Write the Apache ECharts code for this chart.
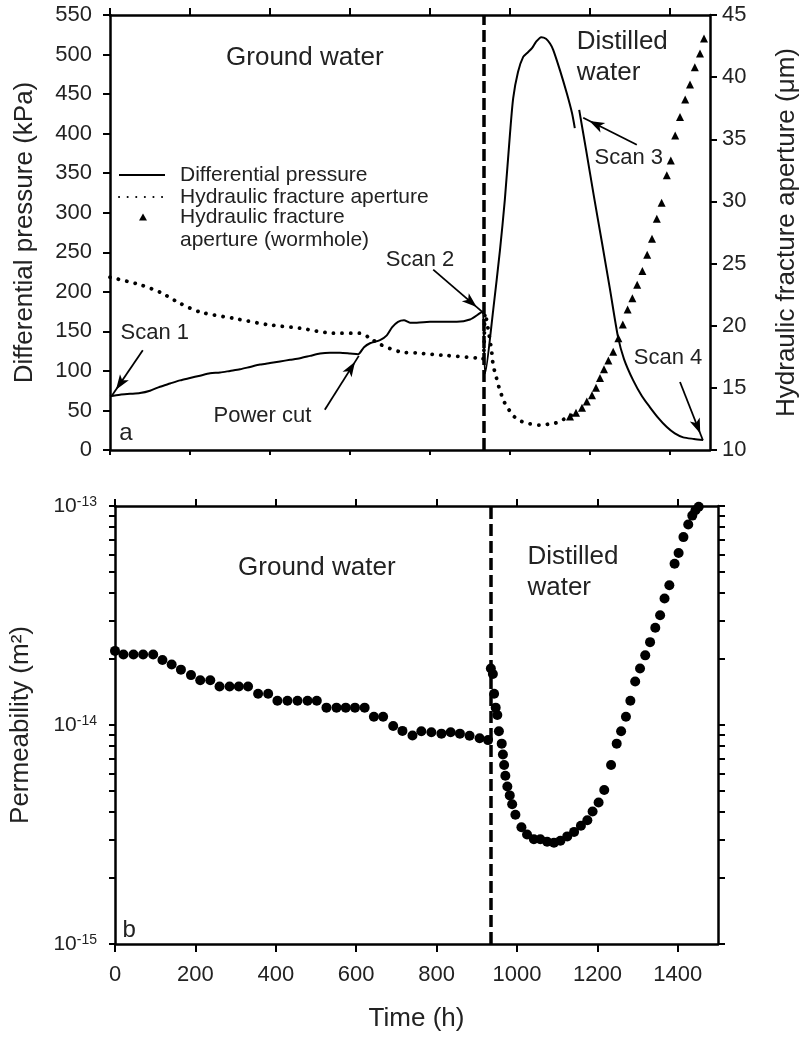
<!DOCTYPE html>
<html>
<head>
<meta charset="utf-8">
<title>Differential pressure, fracture aperture and permeability vs time</title>
<script src="https://cdn.jsdelivr.net/npm/echarts@6/dist/echarts.min.js"></script>
<style>
  html, body { margin: 0; padding: 0; background: #fff; }
  #main { width: 808px; height: 1038px; }
</style>
</head>
<body>
<div id="main"></div>
<script>
// ---- data ----
// (a) differential pressure, kPa ('-' = gap at scan 3)
var pressureTime = [0, 25, 50, 75, 100, 125, 150, 175, 200, 225, 250, 275, 300, 325, 350, 375, 400, 425, 450, 475,
  500, 525, 550, 575, 600, 620, 635, 650, 675, 692, 705, 720, 735, 750, 767, 800, 835, 867, 900, 925,
  932, 938, 958, 975, 987, 1000, 1008, 1020, 1033, 1045, 1055, 1065, 1078, 1090, 1100, 1108, 1125, 1142, 1155, 1162,
  1167, 1173, 1190, 1210, 1230, 1250, 1270, 1285, 1308, 1330, 1350, 1370, 1392, 1412, 1433, 1460, 1483];
var pressureValue = [68, 70, 71, 72, 75, 80, 84, 88, 91, 94, 97, 98, 100, 102, 105, 108, 110, 112, 114, 116,
  119, 122, 123, 123, 122, 121, 130, 135, 139, 145, 155, 162, 164, 161, 161, 162, 162, 162, 165, 173,
  175, 97, 177, 253, 316, 400, 445, 478, 497, 503, 508, 516, 522, 520, 514, 506, 480, 451, 426, 407,
  '-', 430, 380, 320, 262, 203, 143, 115, 88, 68, 54, 41, 29, 21, 16, 14, 12.6];

// (a) hydraulic fracture aperture, µm
var apertureTime = [0, 75, 125, 175, 225, 308, 392, 475, 558, 625, 650, 675, 725, 767, 842, 917, 932,
  938, 945, 950, 954, 958, 965, 971, 977, 985, 996, 1010, 1029, 1050, 1075, 1100, 1117, 1142, 1160];
var apertureValue = [23.9, 23.3, 22.7, 21.8, 21.1, 20.6, 20.1, 19.8, 19.4, 19.4, 19.0, 18.5, 17.9, 17.8, 17.6, 17.4, 17.3,
  21.0, 19.8, 18.8, 18.0, 16.8, 15.95, 15.2, 14.6, 13.9, 13.3, 12.7, 12.3, 12.1, 12.0, 12.1, 12.2, 12.6, 12.9];

// (a) hydraulic fracture aperture (wormhole), µm
var wormholeTime = [1150, 1165, 1180, 1192, 1205, 1215, 1225, 1235, 1246, 1258, 1271, 1282, 1294, 1306, 1318,
  1331, 1343, 1355, 1367, 1379, 1392, 1402, 1413, 1425, 1438, 1450, 1462, 1475, 1485];
var wormholeValue = [12.7, 13.0, 13.4, 13.9, 14.4, 15.0, 15.8, 16.5, 17.2, 17.9, 19.0, 20.1, 21.3, 22.2, 23.3,
  24.4, 25.7, 27.0, 28.6, 29.9, 32.1, 33.3, 35.3, 36.8, 38.2, 39.4, 40.8, 41.9, 43.1];

// (b) permeability, m2
var permTime = [0, 21, 46, 70, 95, 118, 141, 164, 189, 212, 237, 260, 285, 308, 331, 356, 381, 404, 429, 454,
  479, 502, 526, 551, 574, 597, 621, 644, 667, 692, 715, 740, 762, 787, 812, 835, 858, 882, 907, 928,
  935, 940, 943, 947, 951, 955, 962, 965, 968, 971, 976, 982, 988, 996, 1011, 1025, 1042, 1058, 1075, 1092,
  1108, 1125, 1142, 1159, 1175, 1188, 1203, 1217, 1234, 1248, 1259, 1271, 1282, 1294, 1306, 1319, 1331, 1344, 1356, 1367,
  1379, 1392, 1402, 1414, 1426, 1436, 1444, 1452];
var permValue = [2.18e-14, 2.10e-14, 2.10e-14, 2.10e-14, 2.10e-14, 1.98e-14, 1.89e-14, 1.79e-14, 1.69e-14, 1.60e-14,
  1.60e-14, 1.50e-14, 1.50e-14, 1.50e-14, 1.50e-14, 1.39e-14, 1.39e-14, 1.29e-14, 1.29e-14, 1.29e-14,
  1.29e-14, 1.29e-14, 1.20e-14, 1.20e-14, 1.20e-14, 1.20e-14, 1.20e-14, 1.09e-14, 1.09e-14, 9.9e-15,
  9.4e-15, 8.95e-15, 9.37e-15, 9.26e-15, 9.13e-15, 9.26e-15, 9.13e-15, 8.93e-15, 8.70e-15, 8.53e-15,
  1.81e-14, 1.71e-14, 1.39e-14, 1.20e-14, 1.11e-14, 9.37e-15, 8.22e-15, 7.34e-15, 6.57e-15, 5.87e-15,
  5.24e-15, 4.77e-15, 4.35e-15, 3.89e-15, 3.41e-15, 3.16e-15, 3.01e-15, 3.01e-15, 2.93e-15, 2.90e-15,
  2.96e-15, 3.10e-15, 3.25e-15, 3.47e-15, 3.67e-15, 4.03e-15, 4.43e-15, 5.05e-15, 6.57e-15, 8.22e-15,
  9.37e-15, 1.09e-14, 1.29e-14, 1.58e-14, 1.81e-14, 2.08e-14, 2.39e-14, 2.78e-14, 3.17e-14, 3.78e-14,
  4.35e-14, 5.45e-14, 6.10e-14, 7.21e-14, 8.23e-14, 9.04e-14, 9.56e-14, 9.93e-14];

// switch from ground water to distilled water
var switchTime = 934;

// ticks
var timeTicks = [0, 200, 400, 600, 800, 1000, 1200, 1400];
var permLabelTicks = [1e-15, 1e-14, 1e-13];
var permMinorTicks = [1e-15, 2e-15, 3e-15, 4e-15, 5e-15, 6e-15, 7e-15, 8e-15, 9e-15,
  1e-14, 2e-14, 3e-14, 4e-14, 5e-14, 6e-14, 7e-14, 8e-14, 9e-14, 1e-13];

// ---- helpers ----
var textColor = '#222';
var fontFamily = '"Liberation Sans", Arial, Helvetica, sans-serif';

// permeability is drawn on an axis in powers of ten
function exp10(v) {
  return Math.round(Math.log10(v) * 1e6) / 1e6;
}

function pairs(xs, ys, fn) {
  return xs.map(function (x, i) {
    var y = ys[i];
    if (y === '-') return [x, '-'];
    return [x, fn ? fn(y) : y];
  });
}

function note(name, t, v, size, align) {
  return {
    name: name,
    coord: [t, v],
    symbol: 'circle',
    symbolSize: 0,
    itemStyle: { color: 'rgba(0,0,0,0)' },
    label: {
      show: true, position: 'inside', formatter: '{b}',
      color: textColor, fontSize: size, fontFamily: fontFamily,
      align: align || 'center', verticalAlign: 'middle', lineHeight: size + 5
    }
  };
}

function arrow(t0, v0, t1, v1) {
  return [
    { coord: [t0, v0], symbol: 'none' },
    { coord: [t1, v1], symbol: 'arrow', symbolSize: [8, 15], symbolOffset: [0, 7] }
  ];
}

var axisLine = { show: true, onZero: false, lineStyle: { color: '#000', width: 2.5 } };

function timeAxis(grid, pos, withLabels, tickLen) {
  var ax = {
    type: 'value', gridIndex: grid, position: pos,
    min: 0, max: 1500, interval: 200,
    axisLine: axisLine,
    axisTick: { show: true, inside: false, length: tickLen, customValues: timeTicks,
      lineStyle: { color: '#000', width: 2 } },
    axisLabel: { show: withLabels, customValues: timeTicks, margin: 20,
      formatter: function (v) { return String(v); },
      color: textColor, fontSize: 22, fontFamily: fontFamily },
    splitLine: { show: false }
  };
  if (withLabels) {
    ax.name = 'Time (h)';
    ax.nameLocation = 'middle';
    ax.nameGap = 62;
    ax.nameTextStyle = { color: textColor, fontSize: 26, fontFamily: fontFamily };
  }
  return ax;
}

var nameStyle = { color: textColor, fontSize: 26, fontFamily: fontFamily };
var tickStyle = { show: true, inside: false, length: 7, lineStyle: { color: '#000', width: 2 } };

var myChart = echarts.init(document.getElementById('main'), null, { renderer: 'canvas' });

var option = {
  animation: false,
  backgroundColor: '#fff',
  textStyle: { fontFamily: fontFamily },
  grid: [
    { left: 110, top: 15, width: 600, height: 435, outerBoundsMode: 'none' },
    { left: 115, top: 506, width: 603, height: 438, outerBoundsMode: 'none' }
  ],
  legend: [
    {
      left: 118, top: 164, padding: 0, orient: 'vertical', itemGap: 0,
      itemWidth: 46, itemHeight: 12, selectedMode: false,
      itemStyle: { opacity: 0 },
      data: ['Differential pressure', 'Hydraulic fracture aperture'],
      textStyle: { color: textColor, fontSize: 21, lineHeight: 22, padding: [0, 0, 0, 10] }
    },
    {
      left: 139, top: 182.5, padding: 0, orient: 'vertical',
      itemWidth: 8, itemHeight: 7, selectedMode: false,
      data: [{ name: 'Hydraulic fracture aperture (wormhole)', icon: 'triangle' }],
      // empty first line keeps the icon level with "Hydraulic fracture"
      formatter: function (n) { return ' \n' + n.replace('fracture aperture', 'fracture\naperture'); },
      textStyle: { color: textColor, fontSize: 21, lineHeight: 23, padding: [0, 0, 0, 28] }
    }
  ],
  xAxis: [
    timeAxis(0, 'bottom', false, 5),
    timeAxis(0, 'top', false, 7),
    timeAxis(1, 'bottom', true, 8),
    timeAxis(1, 'top', false, 7)
  ],
  yAxis: [
    {
      type: 'value', gridIndex: 0, position: 'left', min: 0, max: 550, interval: 50,
      name: 'Differential pressure (kPa)', nameLocation: 'middle', nameGap: 72, nameTextStyle: nameStyle,
      axisLine: axisLine, axisTick: tickStyle,
      axisLabel: { margin: 18, color: textColor, fontSize: 22 },
      splitLine: { show: false }
    },
    {
      type: 'value', gridIndex: 0, position: 'right', min: 10, max: 45, interval: 5,
      name: 'Hydraulic fracture aperture (\u03bcm)', nameLocation: 'middle', nameGap: 64, nameTextStyle: nameStyle,
      axisLine: axisLine, axisTick: tickStyle,
      axisLabel: { margin: 12, color: textColor, fontSize: 22 },
      splitLine: { show: false }
    },
    {
      type: 'value', gridIndex: 1, position: 'left', min: -15, max: -13,
      name: 'Permeability (m\u00b2)', nameLocation: 'middle', nameGap: 81, nameTextStyle: nameStyle,
      axisLine: axisLine,
      axisTick: { show: true, inside: false, length: 6, customValues: permMinorTicks.map(exp10),
        lineStyle: { color: '#000', width: 2 } },
      axisLabel: {
        margin: 18, customValues: permLabelTicks.map(exp10),
        formatter: function (v) { return '{b|10}{s|' + Math.round(v) + '}'; },
        rich: {
          b: { color: textColor, fontSize: 21, fontFamily: fontFamily },
          s: { color: textColor, fontSize: 14, fontFamily: fontFamily, verticalAlign: 'top' }
        }
      },
      splitLine: { show: false }
    },
    {
      type: 'value', gridIndex: 1, position: 'right', min: -15, max: -13,
      axisLine: axisLine,
      axisTick: { show: true, inside: false, length: 7, customValues: permMinorTicks.map(exp10),
        lineStyle: { color: '#000', width: 2 } },
      axisLabel: { show: false },
      splitLine: { show: false }
    }
  ],
  series: [
    {
      name: 'Differential pressure', type: 'line', xAxisIndex: 0, yAxisIndex: 0,
      data: pairs(pressureTime, pressureValue), showSymbol: false, symbol: 'none',
      connectNulls: false, smooth: 0.25,
      lineStyle: { color: '#000', width: 2 }, itemStyle: { color: '#000' },
      z: 3,
      markLine: {
        silent: true, animation: false,
        label: { show: false },
        lineStyle: { color: '#000', width: 1.8, type: 'solid' },
        emphasis: { disabled: true },
        data: [
          arrow(82, 126, 5, 69),
          arrow(537, 51, 622, 119),
          arrow(808, 228, 930, 175),
          arrow(1317, 386, 1183, 420),
          arrow(1425, 86, 1482, 12.6)
        ]
      },
      markPoint: {
        silent: true, animation: false,
        data: [
          note('Ground water', 487, 496, 26),
          note('Distilled\nwater', 1167, 496, 26, 'left'),
          note('Scan 1', 112, 148, 22),
          note('Power cut', 381, 43, 22),
          note('Scan 2', 775, 240, 22),
          note('Scan 3', 1297, 369, 22),
          note('Scan 4', 1395, 116, 22),
          note('a', 40, 21, 24)
        ]
      }
    },
    {
      name: 'Hydraulic fracture aperture', type: 'line', xAxisIndex: 0, yAxisIndex: 1,
      data: pairs(apertureTime, apertureValue), showSymbol: false, symbol: 'none', smooth: 0.25,
      lineStyle: { color: '#000', width: 3.8, type: [0.1, 8.5], cap: 'round' },
      itemStyle: { color: '#000' },
      markLine: {
        silent: true, animation: false, symbol: 'none',
        label: { show: false },
        emphasis: { disabled: true },
        lineStyle: { color: '#000', width: 3.5, type: [12, 5] },
        data: [{ xAxis: switchTime }]
      }
    },
    {
      name: 'Hydraulic fracture aperture (wormhole)', type: 'scatter', xAxisIndex: 0, yAxisIndex: 1,
      data: pairs(wormholeTime, wormholeValue), symbol: 'triangle', symbolSize: 8,
      itemStyle: { color: '#000', opacity: 1 }
    },
    {
      name: 'Permeability', type: 'scatter', xAxisIndex: 2, yAxisIndex: 2,
      data: pairs(permTime, permValue, exp10), symbol: 'circle', symbolSize: 10,
      itemStyle: { color: '#000', opacity: 1 },
      markLine: {
        silent: true, animation: false, symbol: 'none',
        label: { show: false },
        emphasis: { disabled: true },
        lineStyle: { color: '#000', width: 3.5, type: [12, 5] },
        data: [{ xAxis: switchTime }]
      },
      markPoint: {
        silent: true, animation: false,
        data: [
          note('Ground water', 502, exp10(5.2e-14), 26),
          note('Distilled\nwater', 1026, exp10(4.97e-14), 26, 'left'),
          note('b', 35, exp10(1.16e-15), 24)
        ]
      }
    }
  ]
};

myChart.setOption(option);
</script>
</body>
</html>
